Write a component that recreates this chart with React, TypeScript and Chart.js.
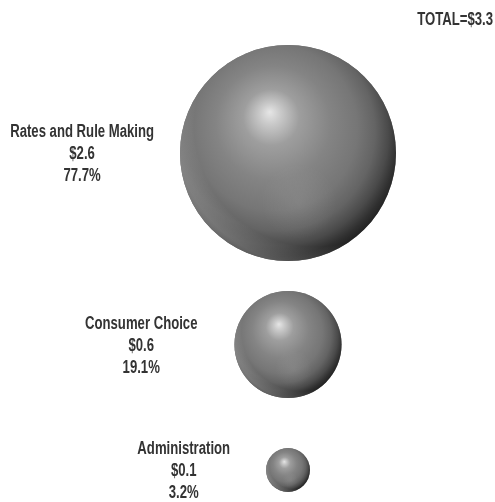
import React, { useEffect, useRef } from 'react';
import { Chart, registerables } from 'chart.js';

Chart.register(...registerables);

// ---- data ----
const categories = ['Rates and Rule Making', 'Consumer Choice', 'Administration'];
const amounts = [2.6, 0.6, 0.1]; // billions of $
const shares = [77.7, 19.1, 3.2]; // percent of total
const totalLabel = 'TOTAL=$3.3';

// ---- layout / style constants ----
const W = 495;
const H = 502;
const CENTER_X = 288;
const TOP = 45;
const MAX_R = 108;
const GAPS = [30, 50];
const LABEL_GAPS = [26, 37, 36];
const FONT = 'bold 18px "Liberation Sans", Arial, sans-serif';
const SX = 0.73; // horizontal condensation of text
const LINE_H = 22;
const TEXT_COLOR = '#333333';

const maxShare = Math.max(...shares);
const radii = shares.map((s) => MAX_R * Math.sqrt(s / maxShare));
const centersY: number[] = [];
radii.forEach((r, i) => {
  if (i === 0) centersY.push(TOP + r);
  else centersY.push(centersY[i - 1] + radii[i - 1] + GAPS[i - 1] + r);
});

function drawCondensed(c: CanvasRenderingContext2D, text: string, x: number, y: number, align: CanvasTextAlign) {
  c.save();
  c.translate(x, y);
  c.scale(SX, 1);
  c.textAlign = align;
  c.fillText(text, 0, 0);
  c.restore();
}

const spherePlugin = {
  id: 'sphereShading',
  afterDatasetsDraw(chart: any) {
    const c: CanvasRenderingContext2D = chart.ctx;
    const meta = chart.getDatasetMeta(0);
    meta.data.forEach((el: any) => {
      const cx = el.x;
      const cy = el.y;
      const r = el.options.radius;
      if (!isFinite(cx) || !isFinite(cy) || !isFinite(r)) return;
      c.save();
      c.beginPath();
      c.arc(cx, cy, r, 0, Math.PI * 2);
      c.closePath();
      c.clip();
      const g = c.createRadialGradient(cx - 0.17 * r, cy - 0.38 * r, 0, cx - 0.1 * r, cy - 0.15 * r, 1.18 * r);
      g.addColorStop(0, '#e6e6e6');
      g.addColorStop(0.08, '#cacaca');
      g.addColorStop(0.22, '#9e9e9e');
      g.addColorStop(0.45, '#848484');
      g.addColorStop(0.65, '#767676');
      g.addColorStop(0.78, '#646464');
      g.addColorStop(0.88, '#4a4a4a');
      g.addColorStop(0.95, '#303030');
      g.addColorStop(1, '#222222');
      c.fillStyle = g;
      c.fillRect(cx - r - 1, cy - r - 1, 2 * r + 2, 2 * r + 2);
      // rim light at the lower-left edge
      const g1 = c.createRadialGradient(cx + 0.25 * r, cy - 0.25 * r, 0, cx + 0.25 * r, cy - 0.25 * r, 1.3 * r);
      g1.addColorStop(0, 'rgba(255,255,255,0)');
      g1.addColorStop(0.86, 'rgba(255,255,255,0)');
      g1.addColorStop(1, 'rgba(255,255,255,0.22)');
      c.fillStyle = g1;
      c.fillRect(cx - r - 1, cy - r - 1, 2 * r + 2, 2 * r + 2);
      // faint secondary glow low-right
      const g2 = c.createRadialGradient(cx + 0.1 * r, cy + 0.45 * r, 0, cx + 0.1 * r, cy + 0.45 * r, 0.35 * r);
      g2.addColorStop(0, 'rgba(255,255,255,0.08)');
      g2.addColorStop(1, 'rgba(255,255,255,0)');
      c.fillStyle = g2;
      c.fillRect(cx - r - 1, cy - r - 1, 2 * r + 2, 2 * r + 2);
      c.restore();
    });
  },
  afterDraw(chart: any) {
    const c: CanvasRenderingContext2D = chart.ctx;
    const meta = chart.getDatasetMeta(0);
    c.save();
    c.font = FONT;
    c.fillStyle = TEXT_COLOR;
    c.textBaseline = 'middle';
    meta.data.forEach((el: any, i: number) => {
      const r = el.options.radius;
      const lines = [categories[i], '$' + amounts[i].toFixed(1), shares[i].toFixed(1) + '%'];
      const widest = Math.max(...lines.map((t) => c.measureText(t).width * SX));
      const xc = el.x - r - LABEL_GAPS[i] - widest / 2;
      lines.forEach((t, k) => {
        drawCondensed(c, t, xc, el.y + (k - 1) * LINE_H + 1, 'center');
      });
    });
    drawCondensed(c, totalLabel, W - 2, 20, 'right');
    c.restore();
  },
};

export default function App() {
  const ref = useRef<HTMLCanvasElement>(null);
  useEffect(() => {
    if (!ref.current) return;
    const chart = new Chart(ref.current, {
      type: 'bubble',
      data: {
        labels: categories,
        datasets: [
          {
            data: categories.map((_, i) => ({ x: CENTER_X, y: centersY[i], r: radii[i] })),
            backgroundColor: '#777777',
            borderWidth: 0,
            hoverBorderWidth: 0,
            hoverRadius: 0,
          },
        ],
      },
      options: {
        responsive: false,
        animation: false,
        events: [],
        layout: { padding: 0, autoPadding: false },
        plugins: { legend: { display: false }, tooltip: { enabled: false }, title: { display: false } },
        scales: {
          x: { type: 'linear', min: 0, max: W, display: false },
          y: { type: 'linear', min: 0, max: H, reverse: true, display: false },
        },
      },
      plugins: [spherePlugin],
    });
    return () => chart.destroy();
  }, []);
  return (
    <div style={{ position: 'absolute', left: 0, top: 0, width: W, height: H, background: '#fff' }}>
      <canvas ref={ref} width={W} height={H} style={{ display: 'block' }} />
    </div>
  );
}
